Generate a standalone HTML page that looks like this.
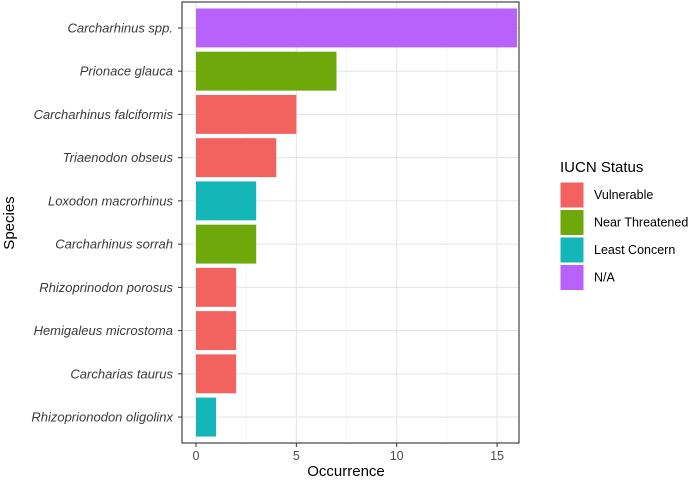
<!DOCTYPE html>
<html><head><meta charset="utf-8"><style>
body{margin:0;background:#fff;width:700px;height:485px;overflow:hidden}
svg{display:block;font-family:"Liberation Sans",sans-serif}
</style></head><body>
<svg id="chart" width="700" height="485" viewBox="0 0 700 485">
<rect x="0" y="0" width="700" height="485" fill="#fff"/>
<g id="grid"></g><g id="bars"></g><g id="axes"></g>
<text x="346" y="476" font-size="15" text-anchor="middle" fill="#000">Occurrence</text>
<text transform="translate(14,223) rotate(-90)" font-size="15" text-anchor="middle" fill="#000">Species</text>
<g id="legend">
<text x="560" y="172" font-size="15" fill="#000">IUCN Status</text>
</g>
</svg>
<script>
const species=["Carcharhinus spp.","Prionace glauca","Carcharhinus falciformis","Triaenodon obseus","Loxodon macrorhinus","Carcharhinus sorrah","Rhizoprinodon porosus","Hemigaleus microstoma","Carcharias taurus","Rhizoprionodon oligolinx"];
const counts=[16,7,5,4,3,3,2,2,2,1];
const status=["N/A","Near Threatened","Vulnerable","Vulnerable","Least Concern","Near Threatened","Vulnerable","Vulnerable","Vulnerable","Least Concern"];
const statusLevels=["Vulnerable","Near Threatened","Least Concern","N/A"];
const statusColors=["#F2625E","#6FA80A","#14B6B8","#B861FB"];
const xTicks=[0,5,10,15];

const NS="http://www.w3.org/2000/svg";
const L=182,R=519,T=2,B=443;
const xs=v=>196+v*20.07;
const band=(B-T)/(species.length+0.2);
const ys=i=>T+band*(0.6+i);
function mk(tag,attrs,parent){const e=document.createElementNS(NS,tag);for(const k in attrs)e.setAttribute(k,attrs[k]);parent.appendChild(e);return e;}
const grid=document.getElementById('grid'),bars=document.getElementById('bars'),axes=document.getElementById('axes'),leg=document.getElementById('legend');
mk('rect',{x:L,y:T,width:R-L,height:B-T,fill:'#fff'},grid);
for(let t=0;t<xTicks.length;t++){
  const v=xTicks[t];
  const g=mk('line',{x1:xs(v),x2:xs(v),y1:T,y2:B,stroke:'#e6e6e6','stroke-width':1.1},grid);
  
  
  if(t<xTicks.length-1){const m=mk('line',{x1:xs(v+2.5),x2:xs(v+2.5),y1:T,y2:B,stroke:'#f0f0f0','stroke-width':0.6},grid);
  
  }
  mk('line',{x1:xs(v),x2:xs(v),y1:B,y2:B+4,stroke:'#333'},axes);
  const tx=mk('text',{x:xs(v),y:B+17,'font-size':12.5,'text-anchor':'middle',fill:'#4d4d4d'},axes);
  tx.textContent=v;
  
  
}
species.forEach((s,i)=>{
  const y=ys(i);
  const gl=mk('line',{x1:L,x2:R,y1:y,y2:y,stroke:'#e6e6e6','stroke-width':1.1},grid);
  
  
  const b=mk('rect',{x:xs(0),y:y-band*0.45,width:xs(counts[i])-xs(0),height:band*0.9,fill:statusColors[statusLevels.indexOf(status[i])]},bars);
  
  
  mk('line',{x1:L-4,x2:L,y1:y,y2:y,stroke:'#333'},axes);
  const t=mk('text',{x:L-9,y:y+4.5,'font-size':13,'font-style':'italic','text-anchor':'end',fill:'#3a3a3a'},axes);
  t.textContent=s;
  
  
});
mk('rect',{x:L,y:T,width:R-L,height:B-T,fill:'none',stroke:'#333','stroke-width':1.1},axes);
statusLevels.forEach((s,i)=>{
  const y=182+i*27.5;
  const k=mk('rect',{x:560,y:y,width:24,height:26,fill:statusColors[i],stroke:'#fff'},leg);
  
  
  const t=mk('text',{x:594,y:y+17,'font-size':12.5,fill:'#000'},leg);
  t.textContent=s;
  
  
});
</script>
</body></html>
